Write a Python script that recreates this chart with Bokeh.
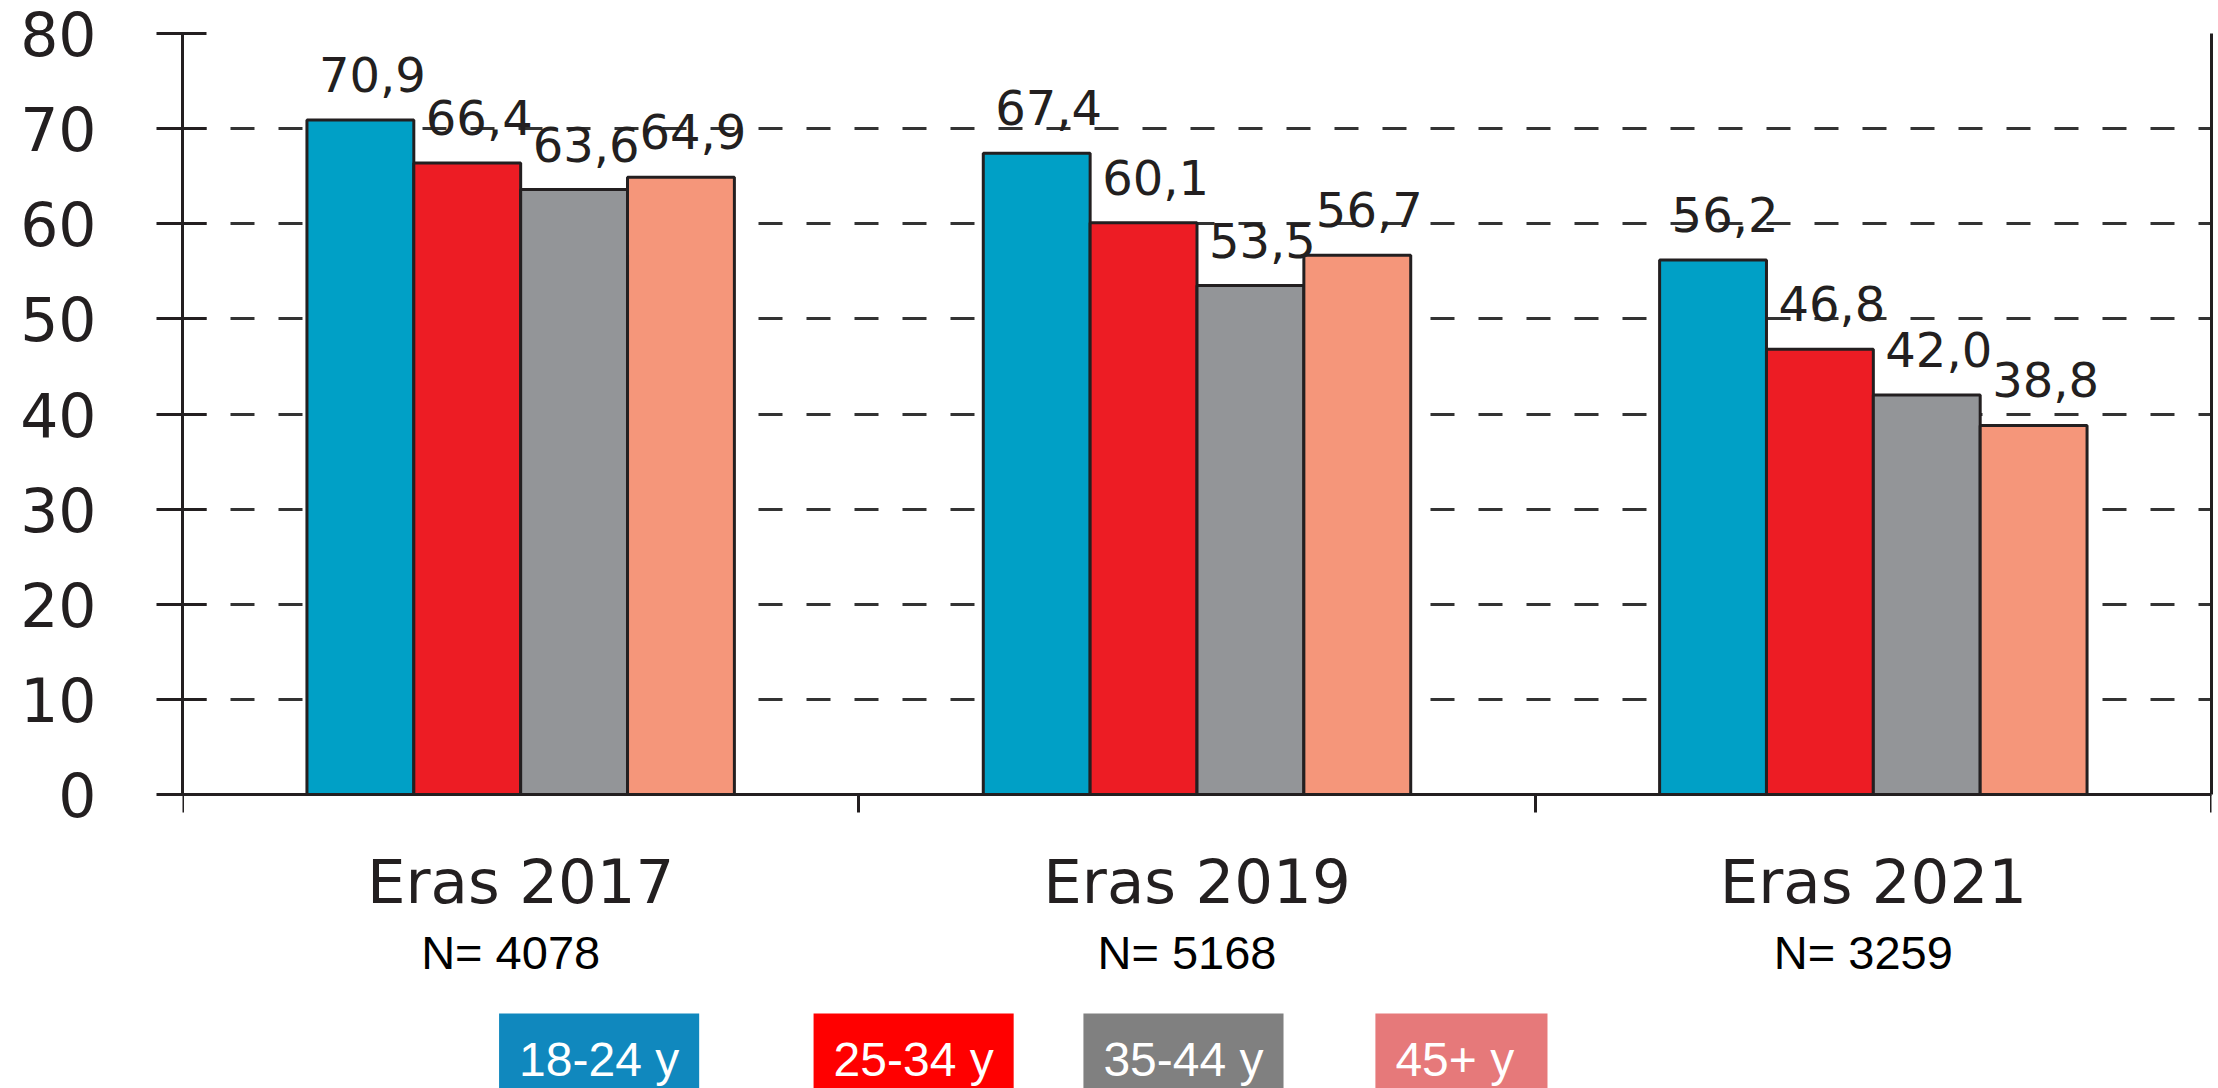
from bokeh.plotting import figure
from bokeh.models import Range1d, FixedTicker, LinearAxis, ColumnDataSource, LabelSet, Label
from bokeh.embed import file_html
from bokeh.resources import INLINE
from bokeh.core.properties import value
import numpy as np

# ---------------- data ----------------
surveys = ["Eras 2017", "Eras 2019", "Eras 2021"]
sample_sizes = ["N= 4078", "N= 5168", "N= 3259"]
age_groups = ["18-24 y", "25-34 y", "35-44 y", "45+  y"]
age_18_24 = [70.9, 67.4, 56.2]
age_25_34 = [66.4, 60.1, 46.8]
age_35_44 = [63.6, 53.5, 42.0]
age_45_plus = [64.9, 56.7, 38.8]
y_ticks = [0, 10, 20, 30, 40, 50, 60, 70, 80]

# ---------------- styles ----------------
bar_colors = ["#00A0C6", "#ED1C24", "#939598", "#F5967A"]
legend_colors = ["#1088BE", "#FF0000", "#808080", "#E6797A"]
ink = "#231F20"
series = [age_18_24, age_25_34, age_35_44, age_45_plus]

W, H = 2218, 1088
p = figure(width=W, height=H, output_backend="svg", toolbar_location=None,
           x_range=Range1d(0, 3), y_range=Range1d(-30.9, 80),
           min_border_left=182, min_border_right=7, min_border_top=33,
           min_border_bottom=0)
p.outline_line_color = None
p.background_fill_color = "white"
p.border_fill_color = "white"

# x axis placed at y = 0, with ticks at the category boundaries
p.xaxis.fixed_location = 0
p.xaxis.ticker = FixedTicker(ticks=[0, 1, 2, 3])
p.xaxis.major_label_overrides = {0: "", 1: "", 2: "", 3: ""}
p.xaxis.major_tick_in = 0
p.xaxis.major_tick_out = 18
p.xaxis.major_tick_line_width = 3
p.xaxis.major_tick_line_color = ink
p.xaxis.axis_line_width = 3
p.xaxis.axis_line_color = ink
p.xaxis.minor_tick_line_color = None
p.xgrid.visible = False

# y axis
p.yaxis.bounds = (0, 80)
p.yaxis.ticker = FixedTicker(ticks=y_ticks)
p.yaxis.major_tick_in = 24
p.yaxis.major_tick_out = 26
p.yaxis.major_tick_line_width = 3
p.yaxis.major_tick_line_color = ink
p.yaxis.axis_line_width = 3
p.yaxis.axis_line_color = ink
p.yaxis.minor_tick_line_color = None
p.yaxis.major_label_text_font = "DejaVu Sans"
p.yaxis.major_label_text_font_size = "60px"
p.yaxis.major_label_text_color = ink
p.yaxis.major_label_standoff = 60

p.ygrid.ticker = FixedTicker(ticks=y_ticks)
p.ygrid.grid_line_color = "#333333"
p.ygrid.grid_line_width = 3
p.ygrid.grid_line_dash = "24 24"

# right frame line
right_axis = LinearAxis(ticker=FixedTicker(ticks=[]), bounds=(0, 80),
                        axis_line_width=3, axis_line_color=ink,
                        major_tick_in=0, major_tick_out=0,
                        minor_tick_in=0, minor_tick_out=0,
                        major_label_standoff=0)
p.add_layout(right_axis, "right")

# bars
bw = 0.158
centers = np.arange(len(surveys)) + 0.5
xs, ys, txt = [], [], []
for i, (vals, col) in enumerate(zip(series, bar_colors)):
    x = centers + (i - 1.5) * bw
    p.vbar(x=x, top=vals, width=bw, bottom=0, fill_color=col,
           line_color=ink, line_width=3)
    xs += list(x)
    ys += list(vals)
    txt += [f"{v:.1f}".replace(".", ",") for v in vals]

val_src = ColumnDataSource(dict(x=xs, y=ys, text=txt))
p.add_layout(LabelSet(x="x", y="y", text="text", source=val_src,
                      text_align="center", text_baseline="alphabetic",
                      x_offset=12, y_offset=28,
                      text_font=value("DejaVu Sans"), text_font_size="48px",
                      text_color=ink))

# category labels below the axis
cat_src = ColumnDataSource(dict(x=list(centers), y=[-11.35] * 3, text=surveys))
p.add_layout(LabelSet(x="x", y="y", text="text", source=cat_src,
                      text_align="center", text_baseline="alphabetic",
                      text_font=value("DejaVu Sans"), text_font_size="61px",
                      text_color=ink))
n_src = ColumnDataSource(dict(x=list(centers), y=[-18.3] * 3, text=sample_sizes))
p.add_layout(LabelSet(x="x", y="y", text="text", source=n_src,
                      text_align="center", text_baseline="alphabetic",
                      x_offset=-10,
                      text_font=value("Liberation Sans"), text_font_size="47px",
                      text_color="black"))

# legend boxes
legend_x = [0.616, 1.081, 1.480, 1.891]
for lx, lab, col in zip(legend_x, age_groups, legend_colors):
    p.add_layout(Label(x=lx, y=-27.9, text=lab, text_align="center",
                       text_baseline="alphabetic",
                       text_font="Liberation Sans", text_font_size="48px",
                       text_color="white", background_fill_color=col,
                       background_fill_alpha=1.0,
                       padding=(20, 20, 20, 20)))

open("out.html", "w").write(file_html(p, INLINE))
